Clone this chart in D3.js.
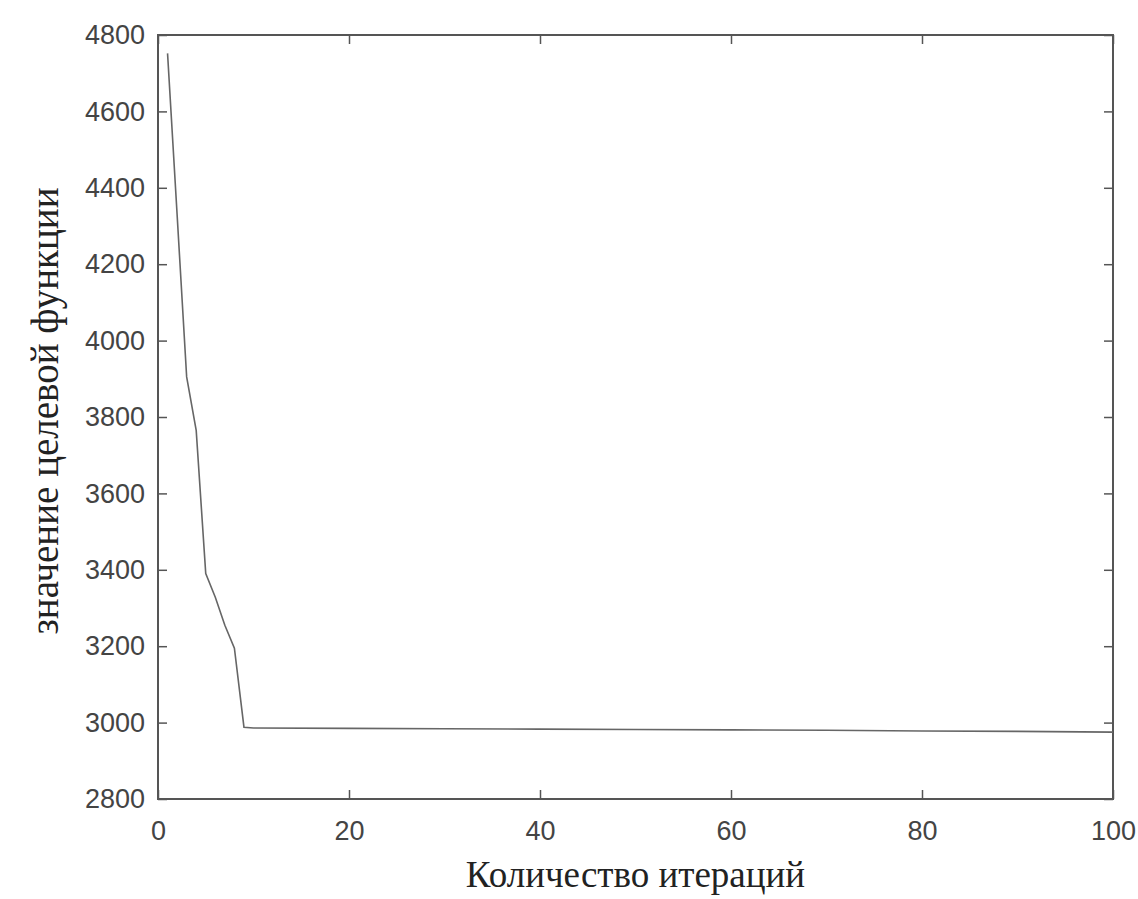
<!DOCTYPE html>
<html>
<head>
<meta charset="utf-8">
<script src="https://cdn.jsdelivr.net/npm/d3@7"></script>
<style>
  body { margin: 0; background: #fff; }
  svg { display: block; }
</style>
</head>
<body>
<svg id="chart"></svg>
<script>
const width = 1138;
const height = 899;

// iterations and objective values
const iterations = [1, 2, 3, 4, 5, 6, 7, 8, 9, 10, 20, 30, 40, 50, 60, 70, 80, 90, 100];
const objective = [4752, 4330, 3905, 3765, 3390, 3328, 3255, 3195, 2988, 2986, 2985, 2984, 2983, 2982, 2981, 2980, 2978, 2977, 2975];

const xTicks = [0, 20, 40, 60, 80, 100];
const yTicks = [2800, 3000, 3200, 3400, 3600, 3800, 4000, 4200, 4400, 4600, 4800];

const xLabel = "Количество итераций";
const yLabel = "значение целевой функции";

const margin = {top: 35, right: 25, bottom: 100, left: 158};

const svg = d3.select("#chart")
    .attr("width", width)
    .attr("height", height);

const x = d3.scaleLinear()
    .domain([0, 100])
    .range([margin.left, width - margin.right]);

const y = d3.scaleLinear()
    .domain([2800, 4800])
    .range([height - margin.bottom, margin.top]);

const axisColor = "#555";

function styleAxis(g) {
    g.select(".domain").remove();
    g.selectAll(".tick line").attr("stroke", axisColor).attr("stroke-width", 1.5);
    g.selectAll(".tick text")
        .attr("fill", "#444")
        .style("font-family", "'Liberation Sans', Arial, sans-serif")
        .style("font-size", "27px");
}

// bottom and left axes with inward ticks
svg.append("g")
    .attr("transform", `translate(0,${y(2800)})`)
    .call(d3.axisBottom(x).tickValues(xTicks).tickSize(-9).tickPadding(22).tickFormat(d3.format("d")))
    .call(styleAxis);

svg.append("g")
    .attr("transform", `translate(${x(0)},0)`)
    .call(d3.axisLeft(y).tickValues(yTicks).tickSize(-9).tickPadding(13).tickFormat(d3.format("d")))
    .call(styleAxis);

// top and right ticks, no labels
svg.append("g")
    .attr("transform", `translate(0,${y(4800)})`)
    .call(d3.axisTop(x).tickValues(xTicks).tickSize(-9).tickFormat(""))
    .call(styleAxis);

svg.append("g")
    .attr("transform", `translate(${x(100)},0)`)
    .call(d3.axisRight(y).tickValues(yTicks).tickSize(-9).tickFormat(""))
    .call(styleAxis);

// box
svg.append("rect")
    .attr("x", x(0))
    .attr("y", y(4800))
    .attr("width", x(100) - x(0))
    .attr("height", y(2800) - y(4800))
    .attr("fill", "none")
    .attr("stroke", axisColor)
    .attr("stroke-width", 2);

const line = d3.line()
    .x((d, i) => x(iterations[i]))
    .y(d => y(d));

svg.append("path")
    .datum(objective)
    .attr("d", line)
    .attr("fill", "none")
    .attr("stroke", "#666")
    .attr("stroke-width", 1.6);

svg.append("text")
    .attr("x", (x(0) + x(100)) / 2)
    .attr("y", 887)
    .attr("text-anchor", "middle")
    .attr("fill", "#222")
    .style("font-family", "'Liberation Serif', 'Times New Roman', serif")
    .style("font-size", "37px")
    .text(xLabel);

svg.append("text")
    .attr("transform", "translate(58,411) rotate(-90)")
    .attr("text-anchor", "middle")
    .attr("fill", "#222")
    .style("font-family", "'Liberation Serif', 'Times New Roman', serif")
    .style("font-size", "39px")
    .text(yLabel);
</script>
</body>
</html>
